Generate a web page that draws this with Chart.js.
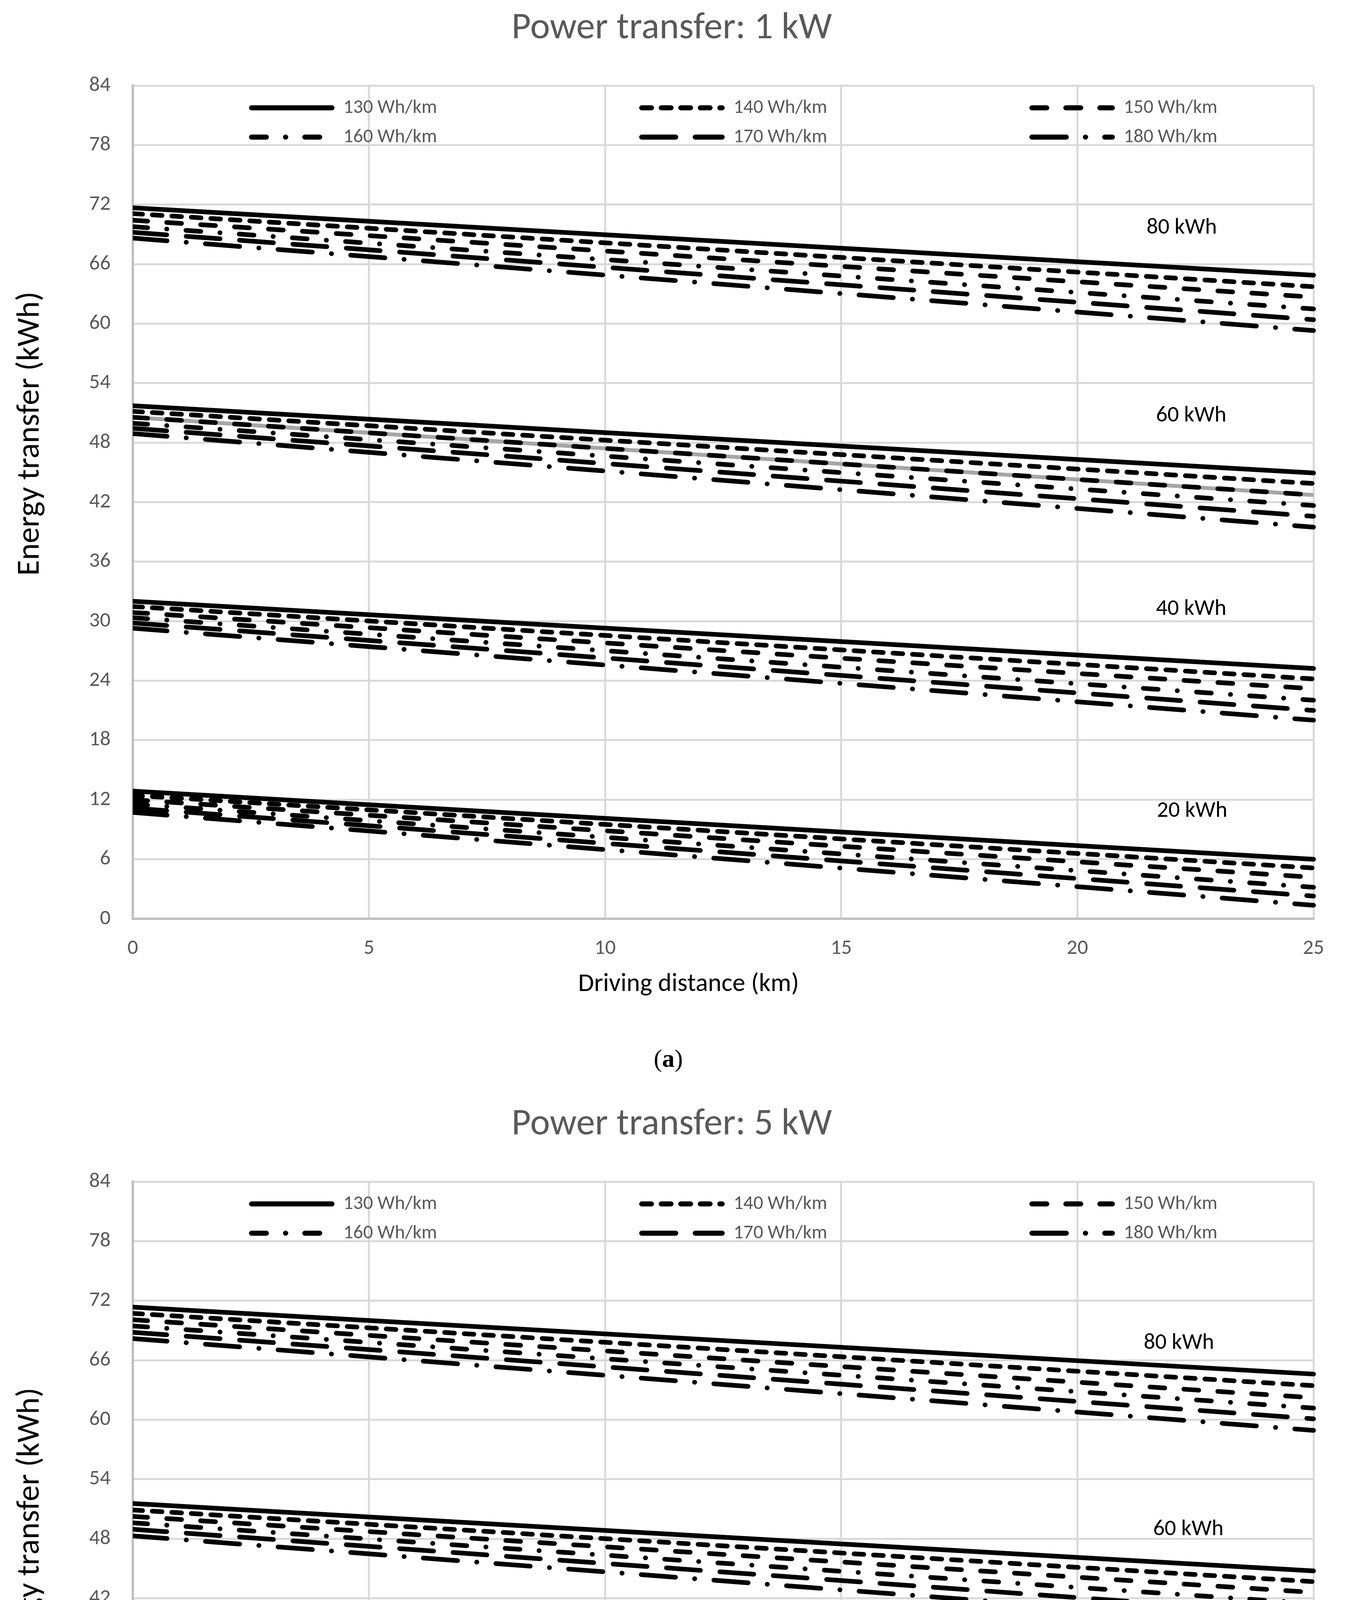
<!DOCTYPE html>
<html lang="en">
<head>
    <meta charset="UTF-8">
    <title>Energy transfer vs driving distance</title>
    <script src="https://cdn.jsdelivr.net/npm/chart.js"></script>
    <style>
        body {
            margin: 0;
            background: #fff;
        }

        .panel {
            position: absolute;
            left: 0;
            width: 3459px;
            height: 2773px;
        }

        #panelA { top: 0; }
        #panelB { top: 2806px; }
    </style>
</head>
<body>
    <div class="panel" id="panelA"><canvas id="chartA" width="3459" height="2773"></canvas></div>
    <div class="panel" id="panelB"><canvas id="chartB" width="3459" height="2773"></canvas></div>

    <script>
        // Driving distance (km) at which each line is read: start and end
        const distanceKm = [0, 25];
        const consumptionLabels = ['130 Wh/km', '140 Wh/km', '150 Wh/km', '160 Wh/km', '170 Wh/km', '180 Wh/km'];
        const capacityLabels = ['80 kWh', '60 kWh', '40 kWh', '20 kWh'];

        // Power transfer 1 kW, energy transfer (kWh) at 0 km and 25 km, one row per consumption
        const kw1_80 = [[71.67, 64.88], [71.09, 63.72], [70.42, 62.67], [69.77, 61.48], [69.20, 60.39], [68.62, 59.30]];
        const kw1_60 = [[51.72, 44.94], [51.16, 43.88], [50.56, 42.72], [49.96, 41.66], [49.44, 40.57], [48.91, 39.48]];
        const kw1_40 = [[32.01, 25.23], [31.48, 24.18], [30.88, 23.19], [30.35, 22.03], [29.82, 21.00], [29.29, 20.02]];
        const kw1_20 = [[12.87, 6.00], [12.44, 5.12], [12.00, 4.18], [11.57, 3.17], [11.15, 2.28], [10.72, 1.36]];

        // Power transfer 5 kW
        const kw5_80 = [[71.35, 64.60], [70.72, 63.43], [70.08, 62.21], [69.45, 61.17], [68.81, 60.09], [68.18, 58.92]];
        const kw5_60 = [[51.55, 44.76], [50.90, 43.67], [50.25, 42.59], [49.60, 41.46], [48.95, 40.34], [48.29, 39.21]];
        const kw5_40 = [[31.88, 25.09], [31.34, 24.00], [30.80, 23.06], [30.25, 21.93], [29.71, 20.94], [29.17, 19.81]];
        const kw5_20 = [[12.85, 5.84], [12.42, 4.93], [11.98, 3.90], [11.55, 3.00], [11.11, 2.07], [10.68, 1.26]];

        // where the capacity labels sit, in (km, kWh)
        const kw1LabelAt = [[22.21, 69.63], [22.41, 50.7], [22.41, 31.2], [22.43, 10.85]];
        const kw5LabelAt = [[22.15, 67.7], [22.35, 48.95], [22.35, 29.15], [22.43, 8.84]];

        // axis ranges
        const xMax = 25, xStep = 5;
        const yMax = 84, yStep = 6;

        // line styles per consumption (round caps, so dashes are shortened by the width)
        const LINE_W = 12;
        const dashPatterns = [[], [25, 25], [38, 49], [38, 49, 0.5, 49], [87, 50], [88, 49, 0.5, 49]];

        const FONT = 'Carlito, "Liberation Sans Narrow", "Open Sans", sans-serif';
        const SERIF = '"Liberation Serif", "DejaVu Serif", serif';
        const GREY_TEXT = '#595959';

        function buildDatasets(groups, greyCopy) {
            const sets = [];
            groups.forEach((group, g) => {
                group.forEach((vals, c) => {
                    sets.push({
                        label: capacityLabels[g] + ' ' + consumptionLabels[c],
                        data: distanceKm.map((d, i) => ({ x: d, y: vals[i] })),
                        borderColor: '#000',
                        borderWidth: LINE_W,
                        borderDash: dashPatterns[c],
                        borderCapStyle: 'round',
                        borderJoinStyle: 'round',
                        pointRadius: 0,
                        fill: false,
                        clip: { left: 0, top: false, right: 8, bottom: false },
                        order: 1
                    });
                });
            });
            // stray grey series sitting under one of the lines in the first panel
            if (greyCopy) {
                sets.push({
                    label: 'grey',
                    data: distanceKm.map((d, i) => ({ x: d, y: greyCopy[i] })),
                    borderColor: '#a6a6a6',
                    borderWidth: 10,
                    pointRadius: 0,
                    fill: false,
                    clip: 0,
                    order: 5
                });
            }
            return sets;
        }

        // titles, legend, capacity labels and captions
        const overlay = {
            id: 'overlay',
            afterDraw(chart, args, opts) {
                const { ctx, chartArea: area, scales: { x, y } } = chart;
                ctx.save();

                // capacity labels
                ctx.fillStyle = '#000';
                ctx.font = '58px ' + FONT;
                ctx.textAlign = 'center';
                ctx.textBaseline = 'middle';
                opts.labelAt.forEach((p, i) => {
                    ctx.fillText(capacityLabels[i], x.getPixelForValue(p[0]), y.getPixelForValue(p[1]));
                });

                // legend, 3 columns x 2 rows inside the plot
                const colX = [638, 1637, 2636];
                const rowY = [area.top + 57, area.top + 132];
                ctx.font = '50px ' + FONT;
                ctx.textAlign = 'left';
                consumptionLabels.forEach((lab, i) => {
                    const cx = colX[i % 3];
                    const cy = rowY[Math.floor(i / 3)];
                    ctx.save();
                    ctx.strokeStyle = '#000';
                    ctx.lineWidth = LINE_W + 1;
                    ctx.lineCap = 'round';
                    ctx.setLineDash(dashPatterns[i]);
                    ctx.beginPath();
                    ctx.moveTo(cx + 6, cy);
                    ctx.lineTo(cx + 212, cy);
                    ctx.stroke();
                    ctx.restore();
                    ctx.fillStyle = GREY_TEXT;
                    ctx.fillText(lab, cx + 241, cy);
                });

                // chart title
                ctx.fillStyle = GREY_TEXT;
                ctx.textAlign = 'center';
                ctx.font = '96px ' + FONT;
                ctx.fillText(opts.title, 1720, 74);

                // axis titles
                ctx.fillStyle = '#000';
                ctx.font = '66px ' + FONT;
                ctx.fillText('Driving distance (km)', 1763, area.bottom + 168);

                ctx.save();
                ctx.translate(78, area.top + 891);
                ctx.rotate(-Math.PI / 2);
                ctx.font = '82px ' + FONT;
                ctx.fillText('Energy transfer (kWh)', 0, 0);
                ctx.restore();

                // caption (a) / (b)
                const cy = area.bottom + 362;
                ctx.textAlign = 'left';
                ctx.font = '64px ' + SERIF;
                const wOpen = ctx.measureText('(').width;
                const wClose = ctx.measureText(')').width;
                ctx.font = 'bold 64px ' + SERIF;
                const wLetter = ctx.measureText(opts.caption).width;
                let cx = 1711 - (wOpen + wLetter + wClose) / 2;
                ctx.font = '64px ' + SERIF;
                ctx.fillText('(', cx, cy);
                cx += wOpen;
                ctx.font = 'bold 64px ' + SERIF;
                ctx.fillText(opts.caption, cx, cy);
                cx += wLetter;
                ctx.font = '64px ' + SERIF;
                ctx.fillText(')', cx, cy);

                ctx.restore();
            }
        };

        function createChart(canvasId, groups, greyCopy, title, caption, labelAt) {
            const ctx = document.getElementById(canvasId).getContext('2d');
            return new Chart(ctx, {
                type: 'line',
                data: { datasets: buildDatasets(groups, greyCopy) },
                options: {
                    responsive: false,
                    devicePixelRatio: 1,
                    animation: false,
                    layout: { padding: { top: 219, right: 96, bottom: 0, left: 0 } },
                    plugins: {
                        legend: { display: false },
                        tooltip: { enabled: false },
                        title: { display: false },
                        overlay: { title: title, caption: caption, labelAt: labelAt }
                    },
                    scales: {
                        x: {
                            type: 'linear',
                            min: 0,
                            max: xMax,
                            afterFit: scale => { scale.height = 421; },
                            ticks: {
                                stepSize: xStep,
                                color: GREY_TEXT,
                                padding: 44,
                                maxRotation: 0,
                                font: { family: FONT, size: 54 }
                            },
                            grid: { color: '#d9d9d9', lineWidth: 5, drawTicks: false },
                            border: { color: '#bfbfbf', width: 6 }
                        },
                        y: {
                            min: 0,
                            max: yMax,
                            afterFit: scale => { scale.width = 340; },
                            ticks: {
                                stepSize: yStep,
                                color: GREY_TEXT,
                                padding: 57,
                                font: { family: FONT, size: 54 }
                            },
                            grid: { color: '#d9d9d9', lineWidth: 5, drawTicks: false },
                            border: { color: '#bfbfbf', width: 6 }
                        }
                    }
                },
                plugins: [overlay]
            });
        }

        createChart('chartA', [kw1_80, kw1_60, kw1_40, kw1_20], kw1_60[2], 'Power transfer: 1 kW', 'a', kw1LabelAt);
        createChart('chartB', [kw5_80, kw5_60, kw5_40, kw5_20], null, 'Power transfer: 5 kW', 'b', kw5LabelAt);
    </script>
</body>
</html>
